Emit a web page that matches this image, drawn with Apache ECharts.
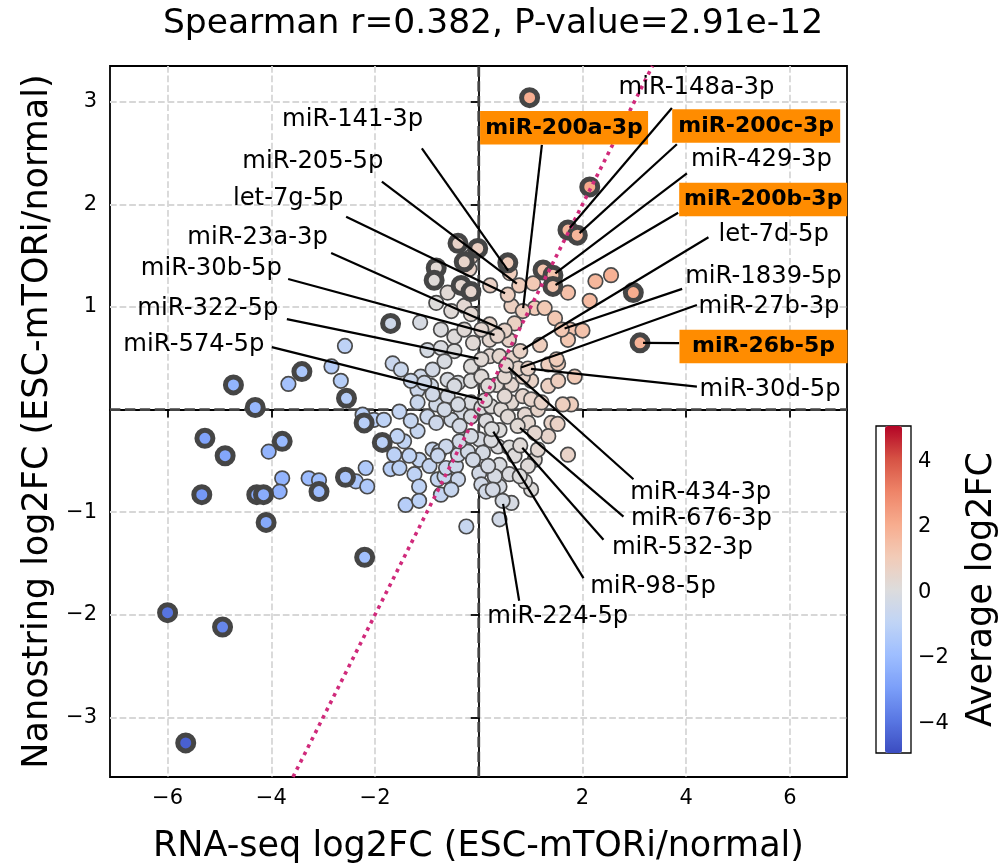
<!DOCTYPE html>
<html>
<head>
<meta charset="utf-8">
<script src="https://cdn.jsdelivr.net/npm/echarts@6/dist/echarts.min.js"></script>
<style>html,body{margin:0;padding:0;background:#fff}#chart{width:1004px;height:865px}</style>
</head>
<body>
<div id="chart"></div>
<script>
// ---------------- data ----------------
const titleText = 'Spearman r=0.382, P-value=2.91e-12';
const xAxisTitle = 'RNA-seq log2FC (ESC-mTORi/normal)';
const yAxisTitle = 'Nanostring log2FC (ESC-mTORi/normal)';
const colorbarTitle = 'Average log2FC';
const xTicks = [-6, -4, -2, 2, 4, 6];
const yTicks = [-3, -2, -1, 1, 2, 3];
const colorbarTicks = [-4, -2, 0, 2, 4];

// labelled miRNAs
const miRNA = ['miR-141-3p','miR-200a-3p','miR-148a-3p','miR-200c-3p','miR-429-3p','miR-200b-3p',
  'let-7d-5p','miR-1839-5p','miR-27b-3p','miR-30d-5p','miR-26b-5p','miR-205-5p','let-7g-5p',
  'miR-23a-3p','miR-30b-5p','miR-322-5p','miR-574-5p','miR-434-3p','miR-676-3p','miR-532-3p',
  'miR-98-5p','miR-224-5p'];
const labelRnaSeq = [0.60,0.85,1.72,1.90,1.43,1.43,0.80,1.60,0.76,0.95,3.11,0.78,0.56,0.50,0.36,0.05,0.12,0.53,0.75,0.80,0.25,0.46];
const labelNano   = [1.33,0.96,1.75,1.70,1.31,1.20,0.57,0.78,0.40,0.40,0.65,1.21,1.12,0.77,0.72,0.49,0.09,0.43,-0.16,-0.35,-0.19,-0.89];
const labelSignificant = [0,0,1,1,1,1,0,0,0,0,1,0,0,0,0,0,0,0,0,0,0,0];
const highlighted = ['miR-200a-3p','miR-200c-3p','miR-200b-3p','miR-26b-5p'];

// other significant miRNAs (thick outline)
const sigRnaSeq = [-6.00,-4.94,-5.65,-2.20,-4.73,-3.41,-2.55,-4.31,-2.21,-1.86,-5.28,-4.89,-3.79,-3.08,-2.57,-5.34,-4.28,-4.15,-4.10,
  -1.70,-0.40,-0.02,-0.82,-0.28,0.56,1.24,-0.86,-0.34,2.98,0.98,2.14,-0.15];
const sigNano = [-1.98,-2.12,-3.25,-1.44,0.24,0.37,0.11,0.02,-0.13,-0.32,-0.28,-0.45,-0.31,-0.80,-0.66,-0.83,-0.83,-0.83,-1.10,
  0.84,1.62,1.57,1.38,1.44,1.43,1.36,1.26,1.21,1.14,3.04,2.17,1.15];

// other miRNAs (thin outline)
const nsRnaSeq = [-3.67,-2.84,-2.66,-2.58,-2.24,-2.02,-4.05,-3.79,-3.84,-3.28,-3.08,-2.37,-2.18,-2.15,
  -1.13,-0.15,-0.18,2.25,2.55,1.05,0.22,1.72,2.14,-0.60,
  -0.82,-0.53,-0.28,-0.15,0.21,0.63,1.08,1.27,1.47,1.76,
  2.00,1.72,0.69,0.58,1.18,-0.73,-0.11,0.21,-0.99,-0.73,
  -0.47,0.21,0.40,0.65,1.34,1.53,1.85,-1.66,-1.50,-1.12,
  -0.89,-0.66,-0.15,0.63,1.01,1.34,-1.18,-0.92,-0.60,-0.40,
  0.34,1.50,1.78,1.62,1.40,1.52,1.72,1.34,1.08,1.01,
  0.89,0.89,1.14,0.63,0.85,0.40,0.37,0.40,0.59,0.59,
  0.01,0.08,0.01,0.05,0.14,0.40,0.63,0.40,-0.24,0.14,
  -0.82,-0.60,-0.34,-0.15,-1.83,-1.53,-1.18,-1.18,-1.63,-1.70,
  -1.44,-0.99,-0.82,-0.53,-0.37,-0.89,-0.76,-1.15,-0.95,-1.24,
  -1.15,-1.41,-1.15,-0.79,-0.66,-0.73,-0.63,-0.44,-0.40,-0.21,
  -0.37,
  -1.31,-1.05,-0.47,-0.15,0.05,0.18,0.50,0.85,1.53,-0.89,
  -0.66,-0.40,-0.15,0.05,0.24,0.43,0.56,0.50,1.01,1.21,
  0.95,1.08,1.14,0.69,0.95,0.79,0.31,0.18,0.24,-0.15,
  -0.11,-0.63,-0.79,-0.40,-0.53,0.27,-1.53,-1.34,-1.57,-1.31,
  -0.47,-0.28,0.05];
const nsNano = [0.25,0.42,0.28,0.62,-0.05,-0.10,-0.41,-0.67,-0.80,-0.67,-0.69,-0.70,-0.57,-0.75,
  0.85,1.49,1.37,1.25,1.31,1.23,1.21,1.14,1.06,1.14,
  1.04,0.96,1.01,0.93,0.83,1.01,0.99,0.99,0.89,0.78,
  0.77,0.68,0.84,0.68,0.63,0.78,0.65,0.68,0.58,0.60,
  0.57,0.52,0.52,0.50,0.44,0.45,0.32,0.45,0.39,0.32,
  0.39,0.47,0.42,0.24,0.28,0.23,0.19,0.23,0.29,0.26,
  0.24,0.49,0.05,0.05,-0.13,-0.14,-0.44,-0.26,-0.49,-0.78,
  -0.70,-0.05,0.00,0.07,0.13,-0.20,-0.36,-0.54,-0.63,-0.37,
  -0.29,-0.42,-0.62,-0.73,-0.80,-0.75,-0.91,-1.07,-1.14,-0.11,
  0.05,0.13,-0.03,0.07,-0.10,-0.02,0.07,-0.21,-0.44,-0.58,
  -0.31,-0.07,-0.13,-0.10,-0.16,-0.39,-0.41,-0.49,-0.55,-0.63,
  -0.75,-0.93,-0.89,-0.68,-0.65,-0.83,-0.57,-0.55,-0.44,-0.41,
  -0.31,
  0.28,0.26,0.23,0.28,0.32,0.23,0.32,0.32,0.28,0.15,
  0.00,0.05,-0.07,0.02,0.03,0.00,-0.07,0.13,0.10,0.07,
  -0.13,-0.23,-0.39,-0.45,-0.55,-0.65,-0.65,-0.55,-0.30,-0.26,
  -0.49,-0.36,-0.45,-0.68,-0.78,-0.78,-0.57,-0.45,-0.26,-0.11,
  0.71,0.78,0.78];

// ---------------- layout (annotation placement, data units) ----------------
const labelTextX = [-1.072,1.645,2.694,5.349,4.090,5.484,4.622,3.980,4.236,4.256,5.490,-1.838,-2.609,-2.910,-3.797,-3.862,-4.132,2.919,2.933,2.567,2.148,0.162];
const labelTextY = [2.823,2.746,3.137,2.765,2.433,2.048,1.702,1.296,1.003,0.192,0.614,2.413,2.053,1.673,1.371,0.981,0.630,-0.815,-1.059,-1.351,-1.725,-2.023];
const labelAlign = ['right','center','left','center','left','center','left','left','left','left','center','right','right','right','right','right','right','left','left','left','left','left'];
const leaderX = [-1.097,1.217,3.724,3.820,4.013,3.845,4.429,3.922,4.206,4.206,3.864,-1.868,-2.557,-2.846,-3.675,-3.700,-3.990,2.983,2.790,2.405,2.019,0.779];
const leaderY = [2.547,2.579,2.940,2.586,2.303,1.919,1.680,1.176,1.020,0.224,0.647,2.222,1.880,1.527,1.273,0.881,0.608,-0.679,-1.043,-1.270,-1.643,-1.864];

const X_MIN = -7.11, X_MAX = 7.10, Y_MIN = -3.582, Y_MAX = 3.349;
const CB_MIN = -4.91, CB_MAX = 5.09;
const FONT = 'DejaVu Sans';
const COOLWARM = ['#3b4cc0','#5977e3','#7b9ff9','#9ebeff','#c0d4f5','#dddcdc','#f2cbb7','#f7ac8e','#ee8468','#d65244','#b40426'];
const isInt = v => Math.abs(v - Math.round(v)) < 1e-6;
const fmtMinus = v => (v < 0 ? '\u2212' + Math.abs(v) : String(v));
const axisFmt = v => (Math.abs(v) < 1e-9 || !isInt(v)) ? '' : fmtMinus(Math.round(v));
const cbarFmt = v => (!isInt(v) || colorbarTicks.indexOf(Math.round(v)) < 0) ? '' : fmtMinus(Math.round(v));

function pts(xs, ys) { return xs.map((x, i) => [x, ys[i], (x + ys[i]) / 2]); }
const thinData = pts(nsRnaSeq, nsNano);
const thickData = pts(sigRnaSeq, sigNano);
labelRnaSeq.forEach((x, i) => {
  const p = [x, labelNano[i], (x + labelNano[i]) / 2];
  (labelSignificant[i] ? thickData : thinData).push(p);
});
const annoData = miRNA.map((n, i) => [labelRnaSeq[i], labelNano[i], leaderX[i], leaderY[i], labelTextX[i], labelTextY[i]]);

const chart = echarts.init(document.getElementById('chart'), null, {renderer: 'canvas'});
const labelStyle = {fontSize: 21, color: '#000', fontFamily: FONT};
const tickStyle = {color: '#000', width: 1.8};
const axisCommon = {
  type: 'value', splitNumber: 7,
  axisLine: {show: true, lineStyle: {color: '#000', width: 1.8}},
  splitLine: {show: true, lineStyle: {color: '#d7d7d7', width: 1.8, type: [6.7, 2.9]}},
  nameLocation: 'middle',
  nameTextStyle: {fontSize: 35, color: '#000', fontFamily: FONT}
};
const option = {
  animation: false,
  backgroundColor: '#fff',
  textStyle: {fontFamily: FONT},
  title: {text: titleText, left: 493, top: 7, textAlign: 'center', padding: 0,
    textStyle: {fontSize: 34.5, fontWeight: 'normal', color: '#000', fontFamily: FONT}},
  grid: [
    {left: 110, top: 66, width: 737, height: 711, show: true, borderColor: '#000', borderWidth: 1.8,
      backgroundColor: 'transparent', outerBoundsMode: 'none', containLabel: false},
    {left: 876, top: 426, width: 35, height: 327, show: true, borderColor: '#000', borderWidth: 1.3,
      backgroundColor: 'transparent', outerBoundsMode: 'none', containLabel: false}
  ],
  xAxis: [
    Object.assign({}, axisCommon, {gridIndex: 0, min: X_MIN, max: X_MAX,
      axisTick: {show: true, customValues: xTicks, length: 8, lineStyle: tickStyle},
      axisLabel: Object.assign({formatter: axisFmt, margin: 11}, labelStyle),
      name: xAxisTitle, nameGap: 52}),
    {gridIndex: 1, type: 'value', show: false, min: 0, max: 1}
  ],
  yAxis: [
    Object.assign({}, axisCommon, {gridIndex: 0, min: Y_MIN, max: Y_MAX,
      axisTick: {show: true, customValues: yTicks, length: 8, lineStyle: tickStyle},
      axisLabel: Object.assign({formatter: axisFmt, margin: 13}, labelStyle),
      name: yAxisTitle, nameGap: 55}),
    {gridIndex: 1, type: 'value', position: 'right', min: CB_MIN, max: CB_MAX, splitNumber: 5,
      axisLine: {show: false}, axisTick: {show: false}, splitLine: {show: false},
      axisLabel: Object.assign({formatter: cbarFmt, margin: 7}, labelStyle),
      name: colorbarTitle, nameLocation: 'middle', nameRotate: 90, nameGap: 53,
      nameTextStyle: {fontSize: 35, color: '#000', fontFamily: FONT}}
  ],
  visualMap: {
    type: 'continuous', seriesIndex: [2, 3], dimension: 2, min: CB_MIN, max: CB_MAX,
    calculable: false, show: true, orient: 'vertical', left: 885, top: 426,
    itemWidth: 17, itemHeight: 327, padding: 0, hoverLink: false,
    inRange: {color: COOLWARM}
  },
  series: [
    {type: 'line', xAxisIndex: 0, yAxisIndex: 0, data: [[0, Y_MIN], [0, Y_MAX]], symbol: 'none', silent: true, z: 1,
      lineStyle: {color: '#444', width: 2.8, type: [10.4, 4.5]}},
    {type: 'line', xAxisIndex: 0, yAxisIndex: 0, data: [[X_MIN, 0], [X_MAX, 0]], symbol: 'none', silent: true, z: 1,
      lineStyle: {color: '#444', width: 2.8, type: [10.4, 4.5]}},
    {type: 'scatter', name: 'other', xAxisIndex: 0, yAxisIndex: 0, data: thinData, symbolSize: 14.5, silent: true, z: 3,
      itemStyle: {borderColor: '#4a4a4a', borderWidth: 1.7, opacity: 1}},
    {type: 'scatter', name: 'significant', xAxisIndex: 0, yAxisIndex: 0, data: thickData, symbolSize: 16, silent: true, z: 3,
      itemStyle: {borderColor: '#454545', borderWidth: 5, opacity: 1}},
    {type: 'line', xAxisIndex: 0, yAxisIndex: 0, data: [[Y_MIN, Y_MIN], [Y_MAX, Y_MAX]], symbol: 'none', silent: true, z: 5,
      lineStyle: {color: '#d02a7b', width: 3.6, type: [3.6, 4.6], cap: 'butt'}},
    {type: 'custom', xAxisIndex: 0, yAxisIndex: 0, data: annoData, silent: true, z: 10, clip: false,
      renderItem: function (params, api) {
        const i = params.dataIndex;
        const tgt = api.coord([api.value(0), api.value(1)]);
        const st = api.coord([api.value(2), api.value(3)]);
        const tp = api.coord([api.value(4), api.value(5)]);
        const dx = tgt[0] - st[0], dy = tgt[1] - st[1];
        const len = Math.hypot(dx, dy) || 1;
        const ex = tgt[0] - dx / len * 3, ey = tgt[1] - dy / len * 3;
        const hl = highlighted.indexOf(miRNA[i]) >= 0;
        const textStyle = hl ? {
          text: miRNA[i], fill: '#000', fontFamily: FONT, fontSize: 22, fontWeight: 'bold',
          align: 'center', verticalAlign: 'middle', backgroundColor: '#ff8c00',
          padding: [6, 0], width: 168, lineHeight: 21.5
        } : {
          text: miRNA[i], fill: '#000', fontFamily: FONT, fontSize: 24.3, fontWeight: 'normal',
          align: labelAlign[i], verticalAlign: 'middle'
        };
        return {type: 'group', children: [
          {type: 'line', shape: {x1: st[0], y1: st[1], x2: ex, y2: ey}, style: {stroke: '#000', lineWidth: 2.2}},
          {type: 'text', x: tp[0], y: tp[1], style: textStyle}
        ]};
      }}
  ]
};
chart.setOption(option);
</script>
</body>
</html>
